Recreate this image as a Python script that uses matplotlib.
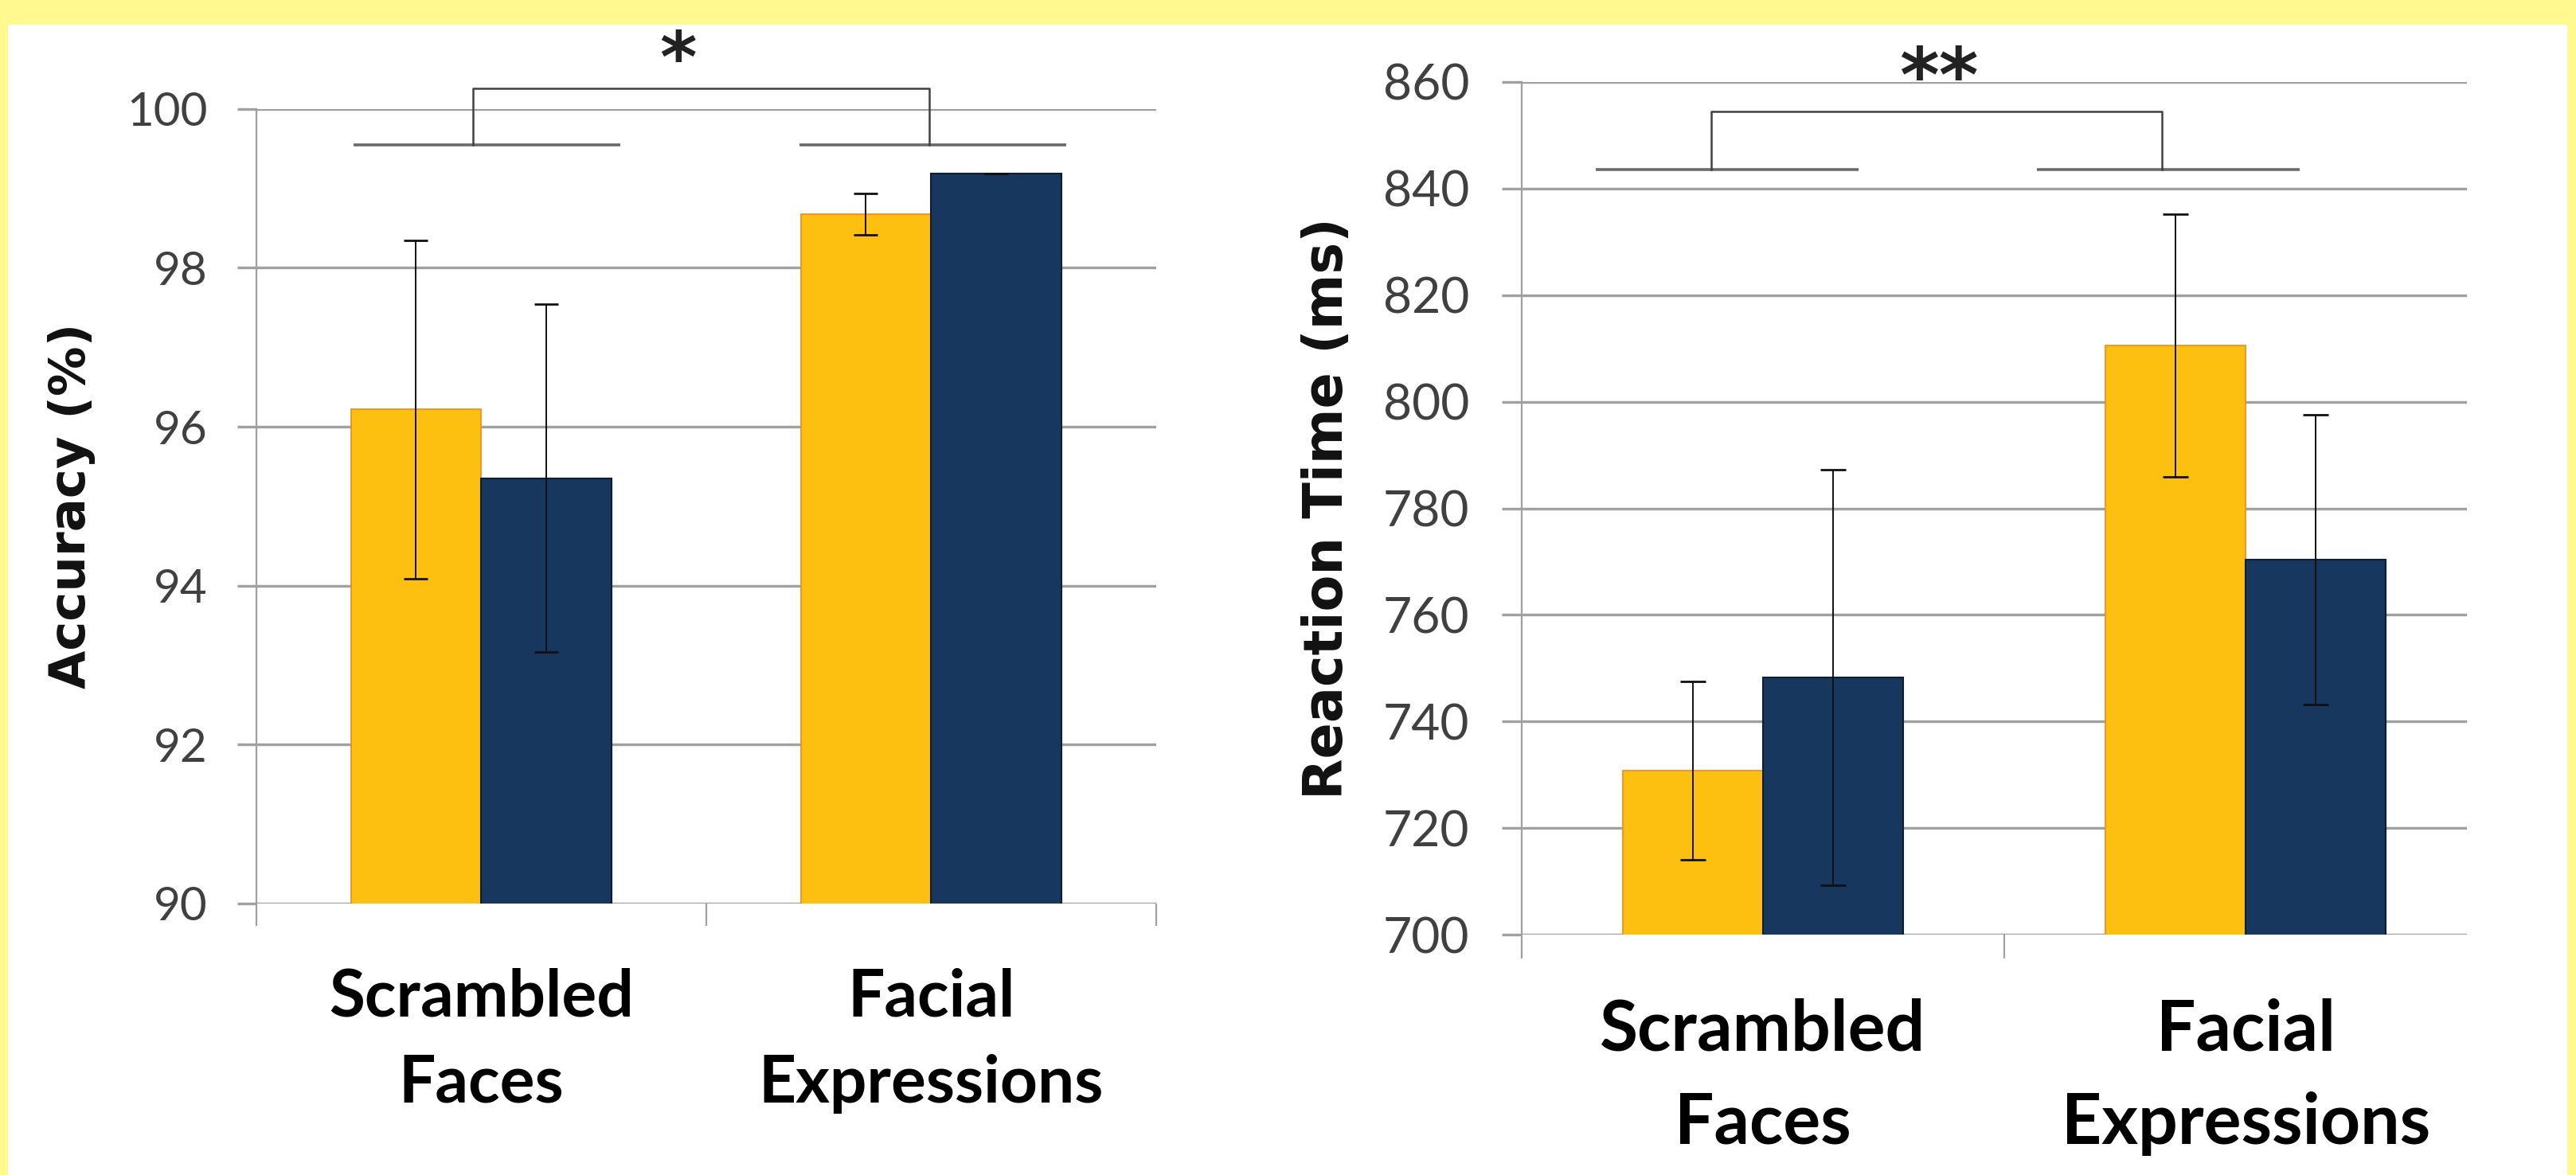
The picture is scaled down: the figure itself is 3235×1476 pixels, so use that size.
import matplotlib.pyplot as plt
from matplotlib.patches import Rectangle

# values
categories = ["Scrambled\nFaces", "Facial\nExpressions"]

acc_yellow = [96.22, 98.68]
acc_yellow_err = [2.13, 0.26]
acc_navy = [95.35, 99.19]
acc_navy_err = [2.19, 0.0]

rt_yellow = [730.8, 810.5]
rt_yellow_err = [16.7, 24.6]
rt_navy = [748.3, 770.4]
rt_navy_err = [39.0, 27.2]

YELLOW = "#FDC010"
YELLOW_EDGE = "#F08A1C"
NAVY = "#17375E"
NAVY_EDGE = "#0E1E30"
GRID = "#A0A0A0"
BORDER = "#FFF98F"

W = 0.29  # bar width (category units)


def draw_panel(ax, yv, ye, nv, ne, ylim, step, ylabel, xmax, seps, xpad, s):
    x = list(range(len(categories)))
    xl = [i - W / 2 for i in x]
    xr = [i + W / 2 for i in x]

    ax.bar(xl, yv, W, color=YELLOW, edgecolor=YELLOW_EDGE, linewidth=1.2, zorder=3)
    ax.bar(xr, nv, W, color=NAVY, edgecolor=NAVY_EDGE, linewidth=1.5, zorder=3)
    ax.errorbar(xl, yv, yerr=ye, fmt="none", ecolor="#111111", elinewidth=1.4,
                capsize=11 * s, capthick=2.0, zorder=4)
    ax.errorbar(xr, nv, yerr=ne, fmt="none", ecolor="#111111", elinewidth=1.4,
                capsize=11 * s, capthick=2.0, zorder=4)

    ax.set_yticks(range(ylim[0], ylim[1] + 1, step))
    ax.yaxis.grid(True, color=GRID, linewidth=2.4, zorder=0)
    ax.set_axisbelow(True)

    for sp in ["top", "right", "bottom"]:
        ax.spines[sp].set_visible(False)
    ax.spines["left"].set_color(GRID)
    ax.spines["left"].set_linewidth(1.6)

    ax.tick_params(axis="y", length=17 * s, width=2.4, color=GRID, pad=27 * s,
                   labelsize=42 * s, labelcolor="#404040")
    for t in ax.get_yticklabels():
        t.set_family(["Lato", "DejaVu Sans"])

    ax.set_xticks(x, categories)
    ax.set_xticks(seps, minor=True)
    ax.tick_params(axis="x", which="major", length=0, pad=xpad)
    ax.tick_params(axis="x", which="minor", length=20 * s, width=1.6, color=GRID)
    for t in ax.get_xticklabels():
        t.set_family(["Lato", "DejaVu Sans"])
        t.set_fontweight("bold")
        t.set_fontsize(59 * s)
        t.set_linespacing(1.55)

    # limits last, set_xticks may widen them
    ax.set_ylim(*ylim)
    ax.set_xlim(-0.5, xmax)

    ax.text(-0.205, 0.5, ylabel, transform=ax.transAxes, rotation=90,
            ha="center", va="center", fontsize=45 * s, fontweight="bold",
            family="DejaVu Sans", color="#111111")


def bracket(ax, left_line, right_line, base, top, xa, xb, star_x, star_y, stars, s):
    for x0, x1 in (left_line, right_line):
        ax.plot([x0, x1], [base, base], color="#6A6A6A", linewidth=2.6,
                clip_on=False, zorder=5, solid_capstyle="butt")
    ax.plot([xa, xa, xb, xb], [base, top, top, base], color="#404040",
            linewidth=1.8, clip_on=False, zorder=5)
    ax.text(star_x, star_y, stars, ha="center", va="baseline", fontsize=64 * s,
            fontweight="bold", family="DejaVu Sans", color="#222222", clip_on=False)


fig = plt.figure(figsize=(32.35, 14.76), dpi=100)
fig.patch.set_facecolor(BORDER)
fig.patches.append(Rectangle((10 / 3235, 0), (3224 - 10) / 3235, 1 - 31 / 1476,
                             transform=fig.transFigure, facecolor="white",
                             edgecolor="none", zorder=-1))

ax1 = fig.add_axes([0.0995, 0.2313, 0.3493, 0.6759])
ax2 = fig.add_axes([0.5906, 0.2044, 0.3670, 0.7260])
for a in (ax1, ax2):
    a.set_facecolor("none")

draw_panel(ax1, acc_yellow, acc_yellow_err, acc_navy, acc_navy_err,
           (90, 100), 2, "Accuracy (%)", 1.5, [-0.5, 0.5, 1.5], 58, 1.0)
draw_panel(ax2, rt_yellow, rt_yellow_err, rt_navy, rt_navy_err,
           (700, 860), 20, "Reaction Time (ms)", 1.458, [-0.5, 0.5], 57, 1.07)

bracket(ax1, (-0.283, 0.309), (0.708, 1.300), 99.55, 100.26,
        -0.019, 0.995, 0.438, 100.34, "*", 1.0)
bracket(ax2, (-0.346, 0.199), (0.567, 1.112), 843.6, 854.4,
        -0.106, 0.827, 0.364, 856.4, "**", 1.07)

fig.savefig("out.png", dpi=100, facecolor=fig.get_facecolor())
